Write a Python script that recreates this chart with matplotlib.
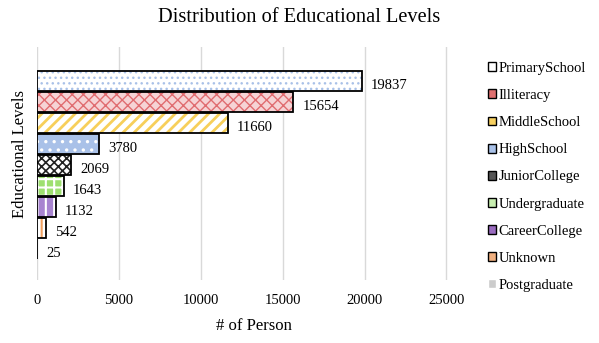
import matplotlib
matplotlib.use("Agg")
import matplotlib.pyplot as plt
from matplotlib.patches import Patch

plt.rcParams['font.family'] = ['Liberation Serif', 'DejaVu Serif']

categories = ["PrimarySchool", "Illiteracy", "MiddleSchool", "HighSchool", "JuniorCollege",
              "Undergraduate", "CareerCollege", "Unknown", "Postgraduate"]
values = [19837, 15654, 11660, 3780, 2069, 1643, 1132, 542, 25]
faces = ["#ffffff", "#f6d3d5", "#ffffff", "#a9c1e8", "#ffffff", "#9ee070", "#a884d0", "#ffffff", "#ffffff"]
hatch_colors = ["#a9c1e8", "#e06c70", "#f7cf5a", "#ffffff", "#222222", "#ffffff", "#ffffff", "#f0a060", "#999999"]
hatches = ["...", "xxx", "///", "..", "xxxx", "++", "||", "|", "//"]
hatch_lw = [1.0, 1.0, 2.0, 1.2, 1.2, 1.5, 1.5, 1.5, 1.0]

fig = plt.figure(figsize=(5.99, 3.43), dpi=100)
ax = fig.add_axes([37/599, 1-280/343, (471-37)/599, (280-47)/343])

for i, (c, v) in enumerate(zip(categories, values)):
    with plt.rc_context({'hatch.linewidth': hatch_lw[i]}):
        ax.barh(i, v, height=0.95, color=faces[i], edgecolor=hatch_colors[i],
                hatch=hatches[i], linewidth=0, zorder=2)
    ax.barh(i, v, height=0.95, fill=False, edgecolor="black", linewidth=1.3, zorder=3)
    ax.text(v + 550, i + 0.2, f"{v}", va="center", ha="left", fontsize=10.5, zorder=4)

ax.set_xlim(0, 26500)
ax.set_ylim(9.48, -1.62)
ax.set_xticks([0, 5000, 10000, 15000, 20000, 25000])
ax.set_yticks([])
ax.tick_params(axis='x', length=0, labelsize=10.5, pad=10)
ax.grid(axis='x', color="#d9d9d9", linewidth=1, zorder=0)
for s in ax.spines.values():
    s.set_visible(False)
ax.set_xlabel("# of Person", fontsize=12, labelpad=8)
fig.text(20/599, 1-154/343, "Educational Levels", rotation=90, fontsize=12,
         ha="center", va="center")
fig.suptitle("Distribution of Educational Levels", fontsize=14.7, y=1-18/343, va="center")

handles = []
leg_faces = ["#ffffff", "#e07070", "#f7d060", "#a9c1e8", "#555555", "#c8eeb0", "#9a6cc0", "#f0b080", "#cccccc"]
for i in range(len(categories)):
    ec = "black" if i != 8 else "#ffffff"
    handles.append(Patch(facecolor=leg_faces[i], edgecolor=ec, linewidth=1.0))
leg = fig.legend(handles, categories, loc="upper left", bbox_to_anchor=(482/599, 1-56/343),
                 frameon=False, fontsize=10.5, handlelength=0.55, handleheight=0.55,
                 handletextpad=0.2, labelspacing=0.97, borderaxespad=0)

fig.savefig("out.png", dpi=100)
